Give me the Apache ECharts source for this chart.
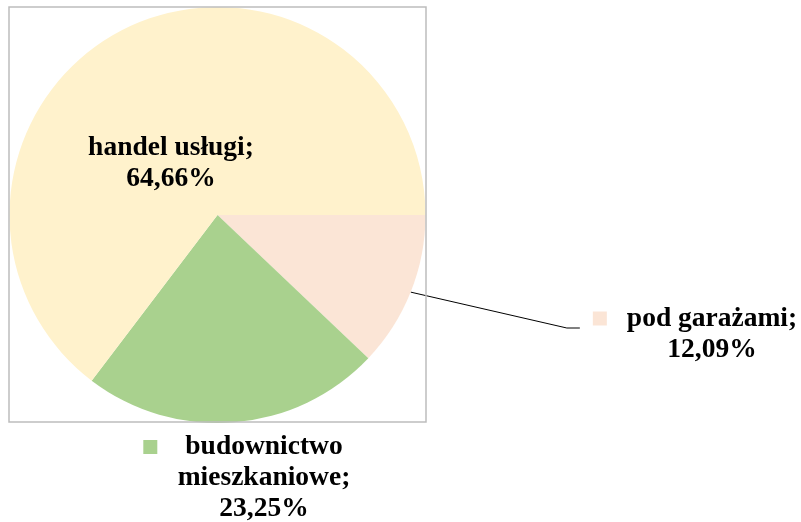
<!DOCTYPE html>
<html>
<head>
<meta charset="utf-8">
<title>Struktura</title>
<script src="https://cdn.jsdelivr.net/npm/echarts@6/dist/echarts.min.js"></script>
<style>
html, body { margin: 0; padding: 0; background: #fff; }
#chart { width: 801px; height: 522px; }
</style>
</head>
<body>
<div id="chart"></div>
<script>
// dane wykresu
const categories = ['pod garażami', 'budownictwo mieszkaniowe', 'handel usługi'];
const labelNames = ['pod garażami;', 'budownictwo\nmieszkaniowe;', 'handel usługi;'];
const shares = [12.09, 23.25, 64.66];
const colors = ['#FBE5D6', '#A9D18E', '#FFF2CC'];

// położenie etykiet (środek bloku tekstu) i odstęp kwadracika od tekstu
const labelPos = [[695, 334], [243, 478], [171, 163]];
const keyGap = [20, 28, 0];
const keySize = 14;
const font = 'Liberation Serif';

const fmt = v => v.toFixed(2).replace('.', ',') + '%';

// tekst etykiety w formacie rich
const labelText = i => {
  const lines = (labelNames[i] + '\n' + fmt(shares[i])).split('\n');
  return lines.map((l, k) => {
    if (!keyGap[i]) return '{t|' + l + '}';
    return (k === 0 ? '{sq|}{gap|}' : '{pad|}') + '{t|' + l + '}';
  }).join('\n');
};

const seriesData = categories.map((name, i) => ({
  name: name,
  value: shares[i],
  itemStyle: { color: colors[i] },
  label: {
    formatter: () => labelText(i),
    rich: {
      t: { fontFamily: font, fontSize: 27.5, fontWeight: 'bold', color: '#000', lineHeight: 31 },
      sq: { width: keySize, height: keySize, backgroundColor: colors[i] },
      gap: { width: keyGap[i] },
      pad: { width: keySize + keyGap[i] }
    }
  },
  labelLine: { show: i === 0 }
}));

const chart = echarts.init(document.getElementById('chart'), null, { renderer: 'canvas' });

chart.setOption({
  animation: false,
  backgroundColor: '#fff',
  graphic: [{
    type: 'rect',
    z: 10,
    shape: { x: 9, y: 7, width: 417, height: 415 },
    style: { fill: 'none', stroke: '#BDBDBD', lineWidth: 1.5 }
  }],
  series: [{
    type: 'pie',
    center: [217.5, 215],
    radius: 208,
    startAngle: 0,
    clockwise: true,
    avoidLabelOverlap: false,
    emphasis: { disabled: true },
    label: { show: true, position: 'outside' },
    labelLine: { show: true, smooth: false, lineStyle: { color: '#000', width: 1 } },
    labelLayout: function (params) {
      const i = params.dataIndex;
      const out = { x: labelPos[i][0], y: labelPos[i][1], align: 'center', verticalAlign: 'middle' };
      if (i === 0 && params.labelLinePoints) {
        const p0 = params.labelLinePoints[0];
        const endX = labelPos[i][0] - params.labelRect.width / 2 - 13;
        const y = labelPos[i][1] - 6;
        out.labelLinePoints = [p0, [endX - 13, y], [endX, y]];
      }
      return out;
    },
    data: seriesData
  }]
});
</script>
</body>
</html>
